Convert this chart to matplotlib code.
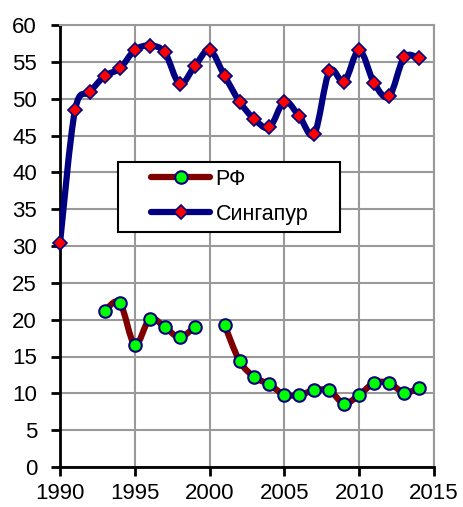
import numpy as np
import matplotlib
matplotlib.use("Agg")
import matplotlib.pyplot as plt
from matplotlib.path import Path
from matplotlib.patches import PathPatch, Rectangle
from matplotlib.lines import Line2D

plt.rcParams['font.family'] = ['Liberation Sans', 'DejaVu Sans']

years_sg = [1990, 1991, 1992, 1993, 1994, 1995, 1996, 1997, 1998, 1999, 2000, 2001,
            2002, 2003, 2004, 2005, 2006, 2007, 2008, 2009, 2010, 2011, 2012, 2013, 2014]
singapore = [30.4, 48.4, 50.9, 53.1, 54.1, 56.6, 57.2, 56.3, 52.0, 54.4, 56.6, 53.1,
             49.6, 47.2, 46.1, 49.6, 47.6, 45.2, 53.7, 52.3, 56.6, 52.1, 50.3, 55.6, 55.5]

years_rf_a = [1993, 1994, 1995, 1996, 1997, 1998, 1999]
rf_a = [21.2, 22.3, 16.6, 20.1, 19.0, 17.6, 19.0]
years_rf_b = [2001, 2002, 2003, 2004, 2005, 2006, 2007, 2008, 2009, 2010, 2011, 2012, 2013, 2014]
rf_b = [19.3, 14.4, 12.2, 11.2, 9.8, 9.8, 10.4, 10.4, 8.6, 9.8, 11.4, 11.4, 10.1, 10.7]

x_ticks = [1990, 1995, 2000, 2005, 2010, 2015]
y_ticks = [0, 5, 10, 15, 20, 25, 30, 35, 40, 45, 50, 55, 60]

C_RF = '#800000'
C_SG = '#000080'
GRID = '#999999'


def smooth_path(xs, ys, t=1/6):
    p = np.column_stack([xs, ys]).astype(float)
    n = len(p)
    verts = [p[0]]
    codes = [Path.MOVETO]
    for i in range(n - 1):
        p0 = p[i - 1] if i > 0 else p[i]
        p1 = p[i]
        p2 = p[i + 1]
        p3 = p[i + 2] if i + 2 < n else p[i + 1]
        c1 = p1 + (p2 - p0) * t
        c2 = p2 - (p3 - p1) * t
        verts += [c1, c2, p2]
        codes += [Path.CURVE4] * 3
    return Path(verts, codes)


W, H = 464, 507
fig = plt.figure(figsize=(W / 100, H / 100), dpi=100)
ax = fig.add_axes([60/W, 1-467/H, 374/W, 442/H])

ax.set_xlim(1990, 2015)
ax.set_ylim(0, 60)
ax.set_xticks(x_ticks)
ax.set_yticks(y_ticks)
ax.grid(True, color=GRID, linewidth=1.5, zorder=0)
ax.set_axisbelow(True)

for s in ['top', 'right']:
    ax.spines[s].set_color(GRID)
    ax.spines[s].set_linewidth(1.5)
for s in ['left', 'bottom']:
    ax.spines[s].set_color('black')
    ax.spines[s].set_linewidth(2)
ax.tick_params(axis='both', direction='out', length=6.5, width=2, color='black',
               labelsize=16)
ax.tick_params(axis='y', pad=10)
ax.tick_params(axis='x', pad=5)

lw = 4.5
for xs, ys in [(years_rf_a, rf_a), (years_rf_b, rf_b)]:
    ax.add_patch(PathPatch(smooth_path(xs, ys), facecolor='none', edgecolor=C_RF,
                           linewidth=lw, capstyle='round', joinstyle='round', zorder=3))
    ax.plot(xs, ys, linestyle='none', marker='o', markersize=9, markerfacecolor='#00ff00',
            markeredgecolor=C_SG, markeredgewidth=1.5, zorder=4, clip_on=False)

ax.add_patch(PathPatch(smooth_path(years_sg, singapore), facecolor='none', edgecolor=C_SG,
                       linewidth=lw, capstyle='round', joinstyle='round', zorder=3))
ax.plot(years_sg, singapore, linestyle='none', marker='D', markersize=7.5,
        markerfacecolor='#ff0000', markeredgecolor=C_SG, markeredgewidth=1.2,
        zorder=4, clip_on=False)

# legend frame
fig.patches.append(Rectangle((118/W, 1-232/H), 222/W, 70/H, transform=fig.transFigure,
                             facecolor='white', edgecolor='black', linewidth=1.5,
                             zorder=5))
h1 = Line2D([], [], color=C_RF, linewidth=lw, marker='o', markersize=9,
            markerfacecolor='#00ff00', markeredgecolor=C_SG, markeredgewidth=1.5,
            solid_capstyle='round')
h2 = Line2D([], [], color=C_SG, linewidth=lw, marker='D', markersize=7.5,
            markerfacecolor='#ff0000', markeredgecolor=C_SG, markeredgewidth=1.2,
            solid_capstyle='round')
leg = fig.legend([h1, h2], ['РФ', 'Сингапур'], loc='center left',
                 bbox_to_anchor=(151/W, 1-197/H), borderaxespad=0, borderpad=0,
                 fontsize=15.5, handlelength=2.75, handletextpad=0.25,
                 labelspacing=0.65, frameon=False)
leg.set_zorder(6)

fig.savefig('out.png', dpi=100)
